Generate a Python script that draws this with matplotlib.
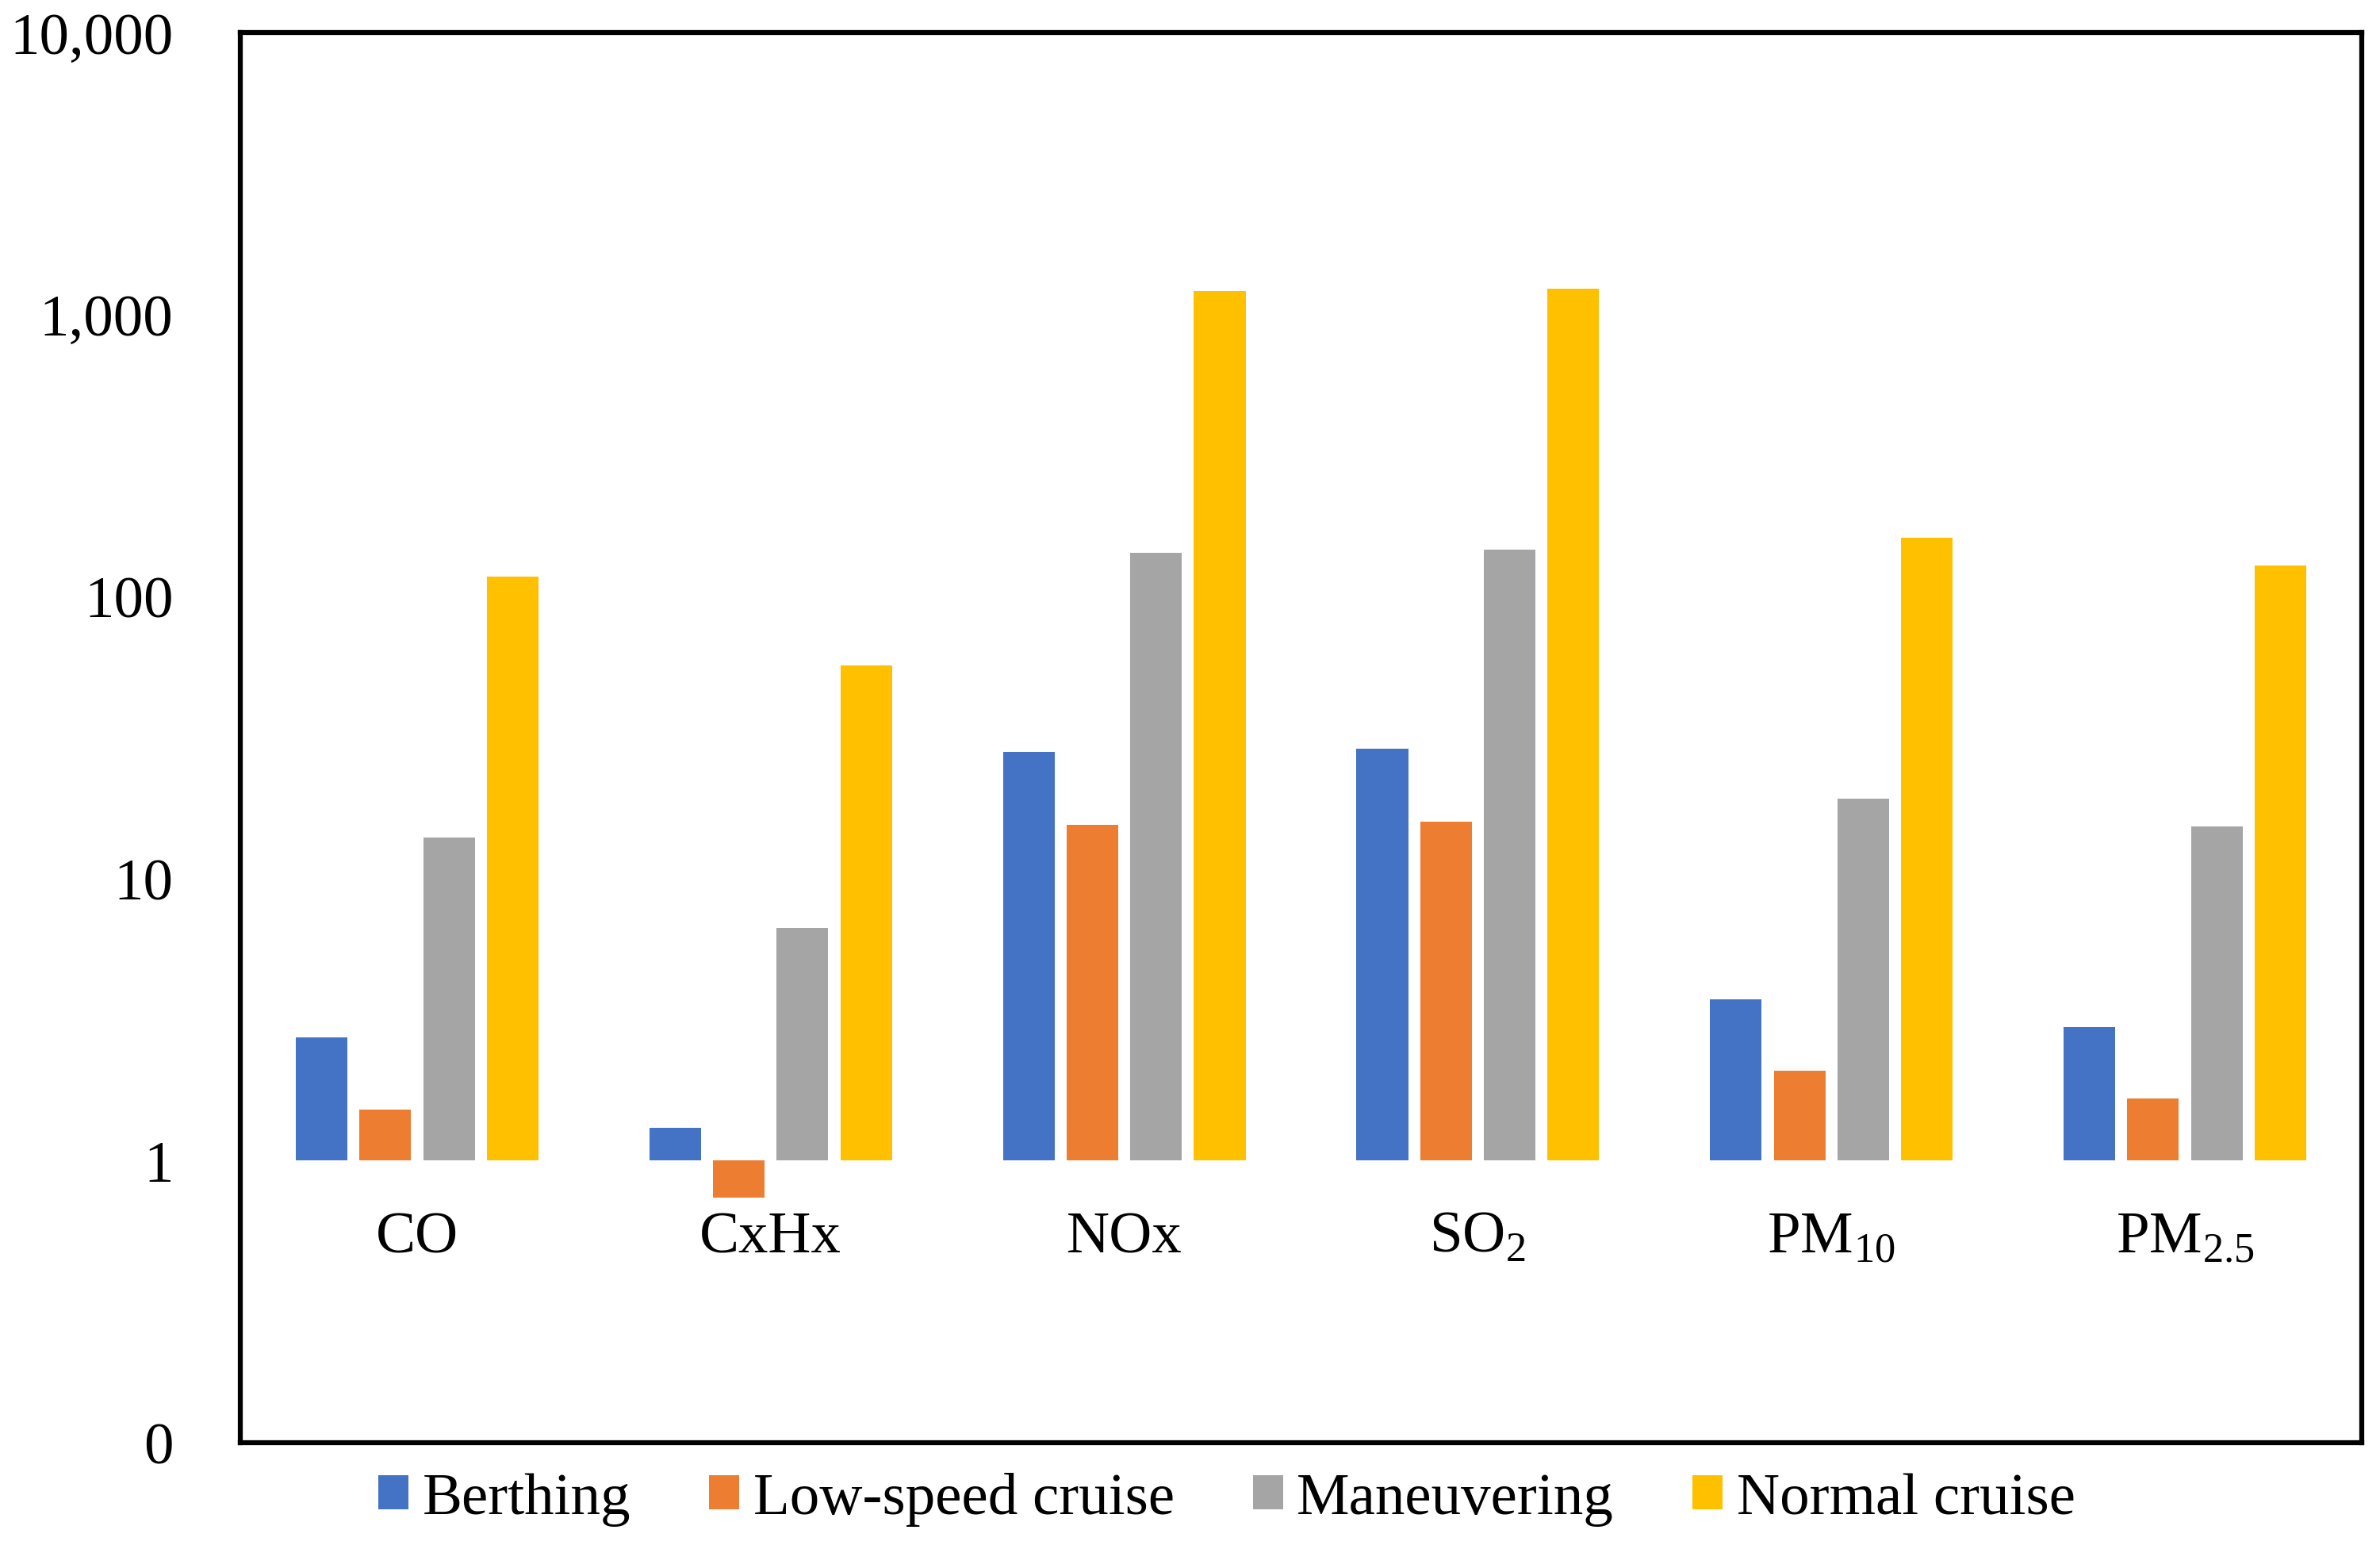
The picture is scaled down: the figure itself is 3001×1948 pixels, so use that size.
import numpy as np
import matplotlib
matplotlib.use("Agg")
import matplotlib.pyplot as plt
from matplotlib.ticker import FixedLocator, FuncFormatter, NullLocator

plt.rcParams['font.family'] = ['Liberation Serif', 'DejaVu Serif']
plt.rcParams['mathtext.fontset'] = 'custom'
plt.rcParams['mathtext.rm'] = 'Liberation Serif'

# data (log scale, bars grow from 1)
pollutants = ["CO", "CxHx", "NOx", r"SO$_\mathrm{2}$", r"PM$_\mathrm{10}$", r"PM$_\mathrm{2.5}$"]
berthing = [2.73, 1.31, 28.1, 28.8, 3.72, 2.98]
low_speed = [1.52, 0.74, 15.5, 15.9, 2.08, 1.66]
maneuvering = [14.0, 6.67, 143, 147, 19.2, 15.3]
normal_cruise = [118, 57, 1208, 1238, 162, 129]

series_names = ["Berthing", "Low-speed cruise", "Maneuvering", "Normal cruise"]
colors = ["#4472C4", "#ED7D31", "#A5A5A5", "#FFC000"]

fig = plt.figure(figsize=(30.01, 19.49), dpi=100)
ax = fig.add_axes([0.101, 0.0662, 0.8913, 0.9123])

x = np.arange(len(pollutants))
w = 0.146
step = 0.18
all_series = [berthing, low_speed, maneuvering, normal_cruise]
for i, (vals, name, c) in enumerate(zip(all_series, series_names, colors)):
    vals = np.array(vals, dtype=float)
    ax.bar(x + (i - 1.5) * step, vals - 1, width=w, bottom=1, color=c,
           label=name, linewidth=0)

ax.set_yscale('log')
ax.set_ylim(0.1, 10000)
ax.set_xlim(-0.5, len(pollutants) - 0.5)

ax.yaxis.set_major_locator(FixedLocator([0.1, 1, 10, 100, 1000, 10000]))
ax.yaxis.set_minor_locator(NullLocator())
ax.yaxis.set_major_formatter(FuncFormatter(lambda v, p: "0" if v < 0.5 else f"{v:,.0f}"))
ax.tick_params(axis='y', length=0, pad=61, labelsize=54)
ax.set_xticks([])

# category labels sit just under the 1-line
for xi, lab in zip(x, pollutants):
    ax.annotate(lab, xy=(xi, 1), xytext=(0, -64), textcoords='offset points',
                ha='center', va='center_baseline', fontsize=54)

for s in ax.spines.values():
    s.set_linewidth(4.5)

leg = ax.legend(loc='center', bbox_to_anchor=(0.465, -0.040), ncol=4,
                frameon=False, fontsize=54, handlelength=0.51, handleheight=0.51,
                handletextpad=0.23, columnspacing=1.32, borderpad=0)

fig.savefig("out.png", dpi=100)
